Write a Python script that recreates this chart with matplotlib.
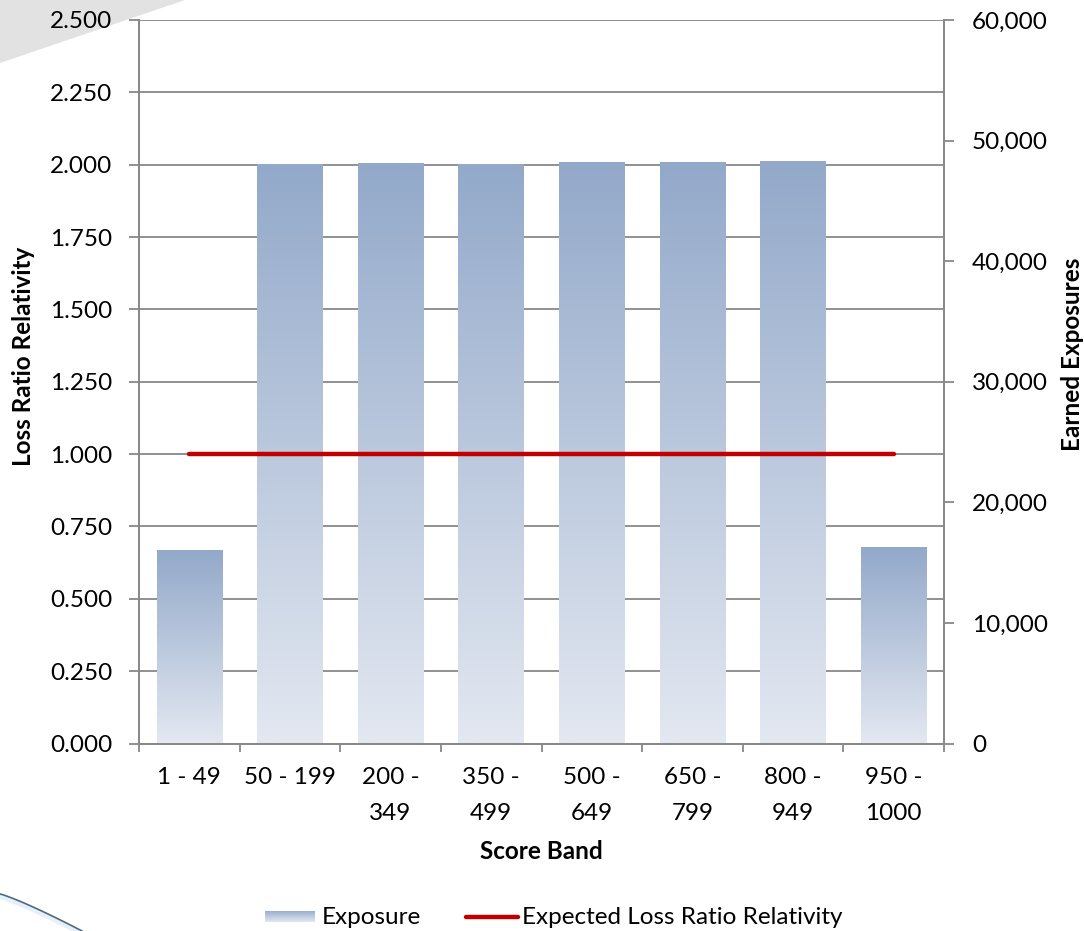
import numpy as np
import matplotlib
matplotlib.use("Agg")
import matplotlib.pyplot as plt
from matplotlib.colors import LinearSegmentedColormap
from matplotlib.patches import Polygon
from matplotlib.lines import Line2D

# ---- data ----
score_bands = ["1 - 49", "50 - 199", "200 -\n349", "350 -\n499", "500 -\n649",
               "650 -\n799", "800 -\n949", "950 -\n1000"]
exposure = [15950, 47950, 48050, 47950, 48150, 48150, 48200, 16200]
expected_lr_relativity = [1.0, 1.0, 1.0, 1.0, 1.0, 1.0, 1.0, 1.0]
left_ticks = [0.0, 0.25, 0.5, 0.75, 1.0, 1.25, 1.5, 1.75, 2.0, 2.25, 2.5]
right_ticks = [0, 10000, 20000, 30000, 40000, 50000, 60000]

plt.rcParams["font.family"] = ["Lato", "DejaVu Sans"]
FS = 17.5
GRID = "#888888"
TOP_C = "#93A9CA"
BOT_C = "#E3E8F1"
RED = "#C00000"

W, H = 1084, 931
fig = plt.figure(figsize=(W / 100, H / 100), dpi=100)

# slide decorations
fig.patches.append(Polygon([[0, 1], [185 / W, 1], [0, 1 - 63 / H]], closed=True,
                           transform=fig.transFigure, facecolor="#E2E2E2",
                           edgecolor="none", zorder=-5))
t = np.linspace(0, 1, 50)
sx = (t * 82) / W
sy = 1 - (894 + 37 * t ** 1.15) / H
fig.add_artist(Line2D(sx, sy - 3 / H, transform=fig.transFigure, color="#E6F0F8", lw=3, zorder=-5))
fig.add_artist(Line2D(sx, sy, transform=fig.transFigure, color="#4F6782", lw=1.2, zorder=-4))

x0, x1 = 139 / W, 944 / W
y0, y1 = 1 - 743.5 / H, 1 - 20 / H
ax = fig.add_axes([x0, y0, x1 - x0, y1 - y0])
ax2 = ax.twinx()

x = np.arange(len(score_bands))

# left axis: loss ratio relativity, grid behind the bars
ax.set_ylim(0, 2.5)
ax.set_yticks(left_ticks)
ax.set_yticklabels([f"{v:.3f}" for v in left_ticks])
ax.yaxis.grid(True, color=GRID, lw=1.3)
ax.set_axisbelow(True)
ax.set_xlim(-0.5, len(score_bands) - 0.5)
ax.set_xticks(x)
ax.set_xticklabels(score_bands, linespacing=1.85)
ax.set_xticks(np.arange(-0.5, len(score_bands)), minor=True)
ax.tick_params(axis="x", which="major", length=0, pad=17, labelsize=FS)
ax.tick_params(axis="x", which="minor", length=6, width=1.3, color=GRID)
ax.tick_params(axis="y", length=7, width=1.3, color=GRID, pad=12, labelsize=FS)

# right axis: earned exposures with gradient bars
ax2.set_ylim(0, 60000)
ax2.set_yticks(right_ticks)
ax2.set_yticklabels([f"{v:,}" for v in right_ticks])
ax2.tick_params(axis="y", length=7, width=1.3, color=GRID, pad=13, labelsize=FS)

cmap = LinearSegmentedColormap.from_list("expo", [BOT_C, TOP_C])
grad = np.linspace(0, 1, 256).reshape(-1, 1)
bars = ax2.bar(x, exposure, width=0.65, color="none", edgecolor="none")
for b in bars:
    bx, bw, bh = b.get_x(), b.get_width(), b.get_height()
    ax2.imshow(grad, cmap=cmap, origin="lower", aspect="auto",
               extent=[bx, bx + bw, 0, bh], zorder=2, interpolation="bilinear")
ax2.set_xlim(-0.5, len(score_bands) - 0.5)
ax2.set_ylim(0, 60000)

# expected loss ratio line, drawn in left-axis units above the bars
ax2.plot(x, expected_lr_relativity, color=RED, lw=3.2, solid_capstyle="round",
         transform=ax.transData, zorder=5)

for a in (ax, ax2):
    a.spines["top"].set_visible(False)
    for s in ("left", "right", "bottom"):
        a.spines[s].set_color(GRID)
        a.spines[s].set_linewidth(1.3)
ax.patch.set_visible(False)

ax.set_ylabel("Loss Ratio Relativity", fontsize=FS, fontweight="bold")
ax.yaxis.set_label_coords((35 - 139) / 805, 0.535)
ax2.set_ylabel("Earned Exposures", fontsize=FS, fontweight="bold", rotation=90)
ax2.yaxis.set_label_coords((1061 - 139) / 805, 0.538)
ax.set_xlabel("Score Band", fontsize=FS, fontweight="bold", labelpad=12)

# legend
lax = fig.add_axes([265 / W, 1 - 922 / H, 50 / W, 11 / H])
lax.imshow(grad, cmap=cmap, origin="lower", aspect="auto", extent=[0, 1, 0, 1])
lax.set_axis_off()
fig.text(322 / W, 1 - 917 / H, "Exposure", fontsize=FS, va="center", ha="left")
fig.add_artist(Line2D([466 / W, 518 / W], [1 - 917 / H, 1 - 917 / H], transform=fig.transFigure,
                      color=RED, lw=3.2, solid_capstyle="round"))
fig.text(522 / W, 1 - 917 / H, "Expected Loss Ratio Relativity", fontsize=FS,
         va="center", ha="left")

fig.savefig("out.png", dpi=100)
